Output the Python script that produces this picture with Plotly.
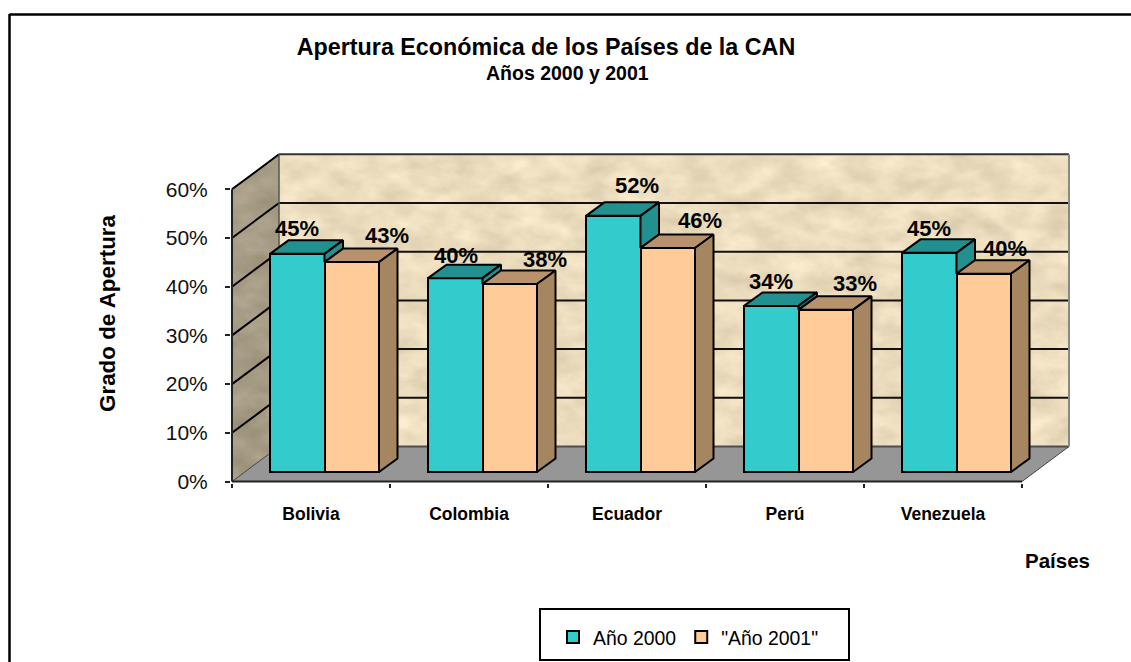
import base64
import plotly.graph_objects as go

# ---- data ----
categories = ["Bolivia", "Colombia", "Ecuador", "Perú", "Venezuela"]
series_names = ["Año 2000", '"Año 2001"']
values_2000 = [44.8, 39.8, 52.6, 34.1, 45.0]
values_2001 = [43.1, 38.6, 46.0, 33.3, 40.7]
labels_2000 = ["45%", "40%", "52%", "34%", "45%"]
labels_2001 = ["43%", "38%", "46%", "33%", "40%"]
y_ticks = [0, 10, 20, 30, 40, 50, 60]
y_tick_labels = ["0%", "10%", "20%", "30%", "40%", "50%", "60%"]

# label nudges away from each bar top (px)
shift_2000 = [(0, 25), (1, 23), (24, 30), (0, 24), (0, 24)]
shift_2001 = [(35, 27), (35, 25), (32, 27), (29, 26), (21, 25)]

# ---- geometry (px in the page) ----
W, H = 1131, 662
L, R, T, B = 231, 1072, 150, 483   # plot area, a little larger than the walls so edges are not clipped
X0, Y0 = 232, 481.5                # page position of the data origin
PX_X = 158.0                       # px per category
PX_Y = 4.87                        # px per percent
x_lo, x_hi = (L - X0) / PX_X, (R - X0) / PX_X
y_lo, y_hi = (Y0 - B) / PX_Y, (Y0 - T) / PX_Y
wall_dx, wall_dy = 47 / PX_X, 35 / PX_Y      # chart depth
wall_right = (1069 - X0) / PX_X
base_dy = 9.5 / PX_Y                         # bars sit in from the front edge
bar_w = 54.5 / PX_X
bar_dx, bar_dy = 18.5 / PX_X, 13.5 / PX_Y    # bar depth
first_left = 38 / PX_X


def px_x(p):
    return (p - L) / (R - L)


def px_y(p):
    return (B - p) / (B - T)


def texture(w, h, slope, offs, points=None):
    shape = (f'<polygon points="{points}"' if points else f'<rect width="{w}" height="{h}"')
    svg = (
        f'<svg xmlns="http://www.w3.org/2000/svg" width="{w}" height="{h}" viewBox="0 0 {w} {h}">'
        '<filter id="t" x="0" y="0" width="100%" height="100%" color-interpolation-filters="sRGB">'
        '<feTurbulence type="fractalNoise" baseFrequency="0.03 0.05" numOctaves="5" seed="7"/>'
        f'<feColorMatrix type="matrix" values="{slope} 0 0 0 {offs[0]} {slope} 0 0 0 {offs[1]} '
        f'{slope} 0 0 0 {offs[2]} 0 0 0 0 1"/>'
        '<feComposite in2="SourceGraphic" operator="in"/>'
        f'</filter>{shape} filter="url(#t)"/></svg>'
    )
    return "data:image/svg+xml;base64," + base64.b64encode(svg.encode()).decode()


TEAL, TEAL_DK = "#33CCCC", "#239090"
PEACH, PEACH_TOP, PEACH_SIDE = "#FFCC99", "#B8926C", "#A68660"
LINE = dict(color="black", width=2)
FONT = "Liberation Sans"

x_groups = list(range(len(categories)))
left_2000 = [i + first_left for i in x_groups]
left_2001 = [v + bar_w for v in left_2000]


def faces(lefts, tops, width):
    xs, ys = [], []
    for x0, t in zip(lefts, tops):
        xs += [x0, x0 + width, x0 + width + bar_dx, x0 + bar_dx, x0, None]
        ys += [t, t, t + bar_dy, t + bar_dy, t, None]
    return xs, ys


def sides(lefts, tops, bottoms):
    xs, ys = [], []
    for x0, t, b in zip(lefts, tops, bottoms):
        xs += [x0, x0 + bar_dx, x0 + bar_dx, x0, x0, None]
        ys += [t, t + bar_dy, b + bar_dy, b, t, None]
    return xs, ys


top_2000 = [v + base_dy for v in values_2000]
top_2001 = [v + base_dy for v in values_2001]

fig = go.Figure()
fig.add_bar(
    name=series_names[0], x=[v + bar_w / 2 for v in left_2000], y=values_2000, base=base_dy,
    width=bar_w, marker=dict(color=TEAL, line=LINE),
)
fig.add_bar(
    name=series_names[1], x=[v + bar_w / 2 for v in left_2001], y=values_2001, base=base_dy,
    width=bar_w, marker=dict(color=PEACH, line=LINE),
)


def poly(xs, ys, color):
    fig.add_scatter(
        x=xs, y=ys, mode="lines", fill="toself", fillcolor=color, line=dict(color="black", width=2),
        showlegend=False, hoverinfo="skip",
    )


poly(*faces(left_2000, top_2000, bar_w), TEAL_DK)
poly(*sides(left_2001, top_2000, top_2001), TEAL_DK)
poly(*faces(left_2001, top_2001, bar_w), PEACH_TOP)
poly(*sides([v + bar_w for v in left_2001], top_2001, [base_dy] * len(categories)), PEACH_SIDE)

# ---- walls, floor, gridlines ----
shapes = []
for v in y_ticks[1:]:
    shapes.append(dict(type="line", xref="x", yref="y", x0=0, x1=wall_dx, y0=v, y1=v + wall_dy,
                       line=dict(color="black", width=2), layer="below"))
    shapes.append(dict(type="line", xref="x", yref="y", x0=wall_dx, x1=wall_right, y0=v + wall_dy, y1=v + wall_dy,
                       line=dict(color="#111111" if v < 60 else "#333333", width=2), layer="below"))
n = len(categories)
floor = (f"M0,0 L{n},0 L{n + wall_dx},{wall_dy} L{wall_dx},{wall_dy} Z")
shapes.append(dict(type="path", xref="x", yref="y", path=floor, fillcolor="#969696",
                   line=dict(color="#444444", width=1), layer="below"))
shapes.append(dict(type="line", xref="x", yref="y", x0=wall_dx, x1=n + wall_dx, y0=wall_dy, y1=wall_dy,
                   line=dict(color="#4d4d4d", width=2), layer="below"))
shapes.append(dict(type="line", xref="x", yref="y", x0=wall_dx, x1=wall_dx, y0=wall_dy, y1=y_ticks[-1] + wall_dy,
                   line=dict(color="#555555", width=1.5), layer="below"))
shapes.append(dict(type="line", xref="x", yref="y", x0=wall_right, x1=wall_right, y0=wall_dy, y1=y_ticks[-1] + wall_dy,
                   line=dict(color="#888888", width=2), layer="below"))
shapes.append(dict(type="line", xref="x", yref="y", x0=0, x1=0, y0=0, y1=y_ticks[-1], line=dict(color="#222222", width=2), layer="below"))
shapes.append(dict(type="line", xref="x", yref="y", x0=0, x1=n, y0=0, y1=0, line=dict(color="#222222", width=2), layer="below"))
# outer frame: only the top and left edges fall inside the page
shapes.append(dict(type="line", xref="paper", yref="paper", x0=px_x(9.5), x1=px_x(1131), y0=px_y(14.5), y1=px_y(14.5),
                   line=dict(color="black", width=2.5), layer="below"))
shapes.append(dict(type="line", xref="paper", yref="paper", x0=px_x(9.5), x1=px_x(9.5), y0=px_y(14), y1=px_y(662),
                   line=dict(color="black", width=2.5), layer="below"))
# legend box
shapes.append(dict(type="rect", xref="paper", yref="paper", x0=px_x(540), x1=px_x(849), y0=px_y(609), y1=px_y(660),
                   line=dict(color="black", width=2), fillcolor="white", layer="below"))

# ---- textured walls ----
images = [
    dict(source=texture(790, 293, 0.18, (0.835, 0.775, 0.655)), xref="paper", yref="paper",
         x=px_x(279), y=px_y(154), sizex=px_x(1069) - px_x(279), sizey=px_y(154) - px_y(447),
         xanchor="left", yanchor="top", sizing="stretch", layer="below"),
    dict(source=texture(47, 328, 0.15, (0.575, 0.535, 0.445), points="0,34 47,0 47,293 0,328"),
         xref="paper", yref="paper", x=px_x(232), y=px_y(154), sizex=px_x(279) - px_x(232),
         sizey=px_y(154) - px_y(482), xanchor="left", yanchor="top", sizing="stretch", layer="below"),
]

# ---- annotations ----
annotations = []
for xs, tops, labs, shifts in (
    ([v + bar_w / 2 for v in left_2000], top_2000, labels_2000, shift_2000),
    ([v + bar_w / 2 for v in left_2001], top_2001, labels_2001, shift_2001),
):
    for x, t, lab, (sx, sy) in zip(xs, tops, labs, shifts):
        annotations.append(dict(x=x, y=t, xref="x", yref="y", text=lab, showarrow=False, xshift=sx, yshift=sy,
                                font=dict(family=FONT, size=22, color="black", weight="bold")))


def note(text, x, y, size, angle=0):
    annotations.append(dict(xref="paper", yref="paper", x=px_x(x), y=px_y(y), text=text, showarrow=False,
                            textangle=angle, xanchor="center", yanchor="middle",
                            font=dict(family=FONT, size=size, color="black", weight="bold")))


note("Años 2000 y 2001", 567, 73, 19.5)
note("Grado de Apertura", 107.5, 313.5, 22.4, angle=-90)
note("Países", 1057, 560, 20.5)

fig.update_layout(
    width=W, height=H, autosize=False,
    margin=dict(l=L, r=W - R, t=T, b=H - B, pad=0),
    paper_bgcolor="white", plot_bgcolor="rgba(0,0,0,0)",
    barmode="overlay", bargap=0,
    title=dict(text="Apertura Económica de los Países de la CAN", x=546 / W, xanchor="center",
               y=1 - 47 / H, yanchor="middle", font=dict(family=FONT, size=23.3, color="black", weight="bold")),
    xaxis=dict(range=[x_lo, x_hi], tickmode="array", tickvals=[i + 0.5 for i in x_groups], ticktext=categories,
               ticks="", showgrid=False, zeroline=False, showline=False, ticklabelstandoff=18,
               tickfont=dict(family=FONT, size=17.5, color="black", weight="bold"),
               minor=dict(tickmode="array", tickvals=list(range(n + 1)), ticks="outside", ticklen=4, tickwidth=2,
                          tickcolor="#222222", showgrid=False)),
    yaxis=dict(range=[y_lo, y_hi], tickmode="array", tickvals=y_ticks, ticktext=y_tick_labels, ticks="outside", ticklen=5,
               tickwidth=2, tickcolor="#222222", showgrid=False, zeroline=False, showline=False, ticklabelstandoff=13,
               tickfont=dict(family=FONT, size=21, color="#111111")),
    legend=dict(orientation="h", xref="container", yref="container", x=553 / W, y=1 - 618 / H, xanchor="left",
                yanchor="top", bgcolor="rgba(0,0,0,0)", borderwidth=0,
                font=dict(family=FONT, size=19.4, color="black"), itemclick=False, itemdoubleclick=False),
    shapes=shapes, images=images, annotations=annotations,
)

fig.write_html("out.html", config=dict(displayModeBar=False), post_script="document.body.style.margin='0';")
